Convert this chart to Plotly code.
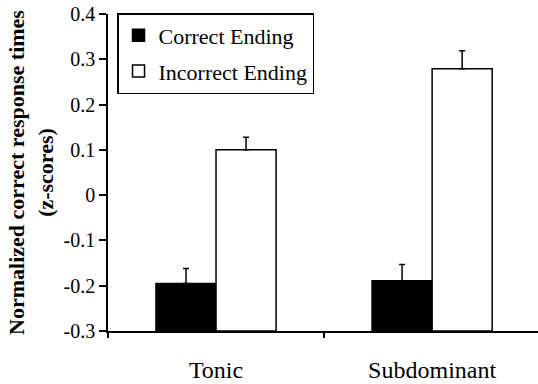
import plotly.graph_objects as go

categories = ["Tonic", "Subdominant"]
correct_vals = [-0.195, -0.189]
correct_err = [0.033, 0.036]
incorrect_vals = [0.10, 0.279]
incorrect_err = [0.028, 0.040]
ytick_vals = [0.4, 0.3, 0.2, 0.1, 0.0, -0.1, -0.2, -0.3]
ytick_text = ["0.4", "0.3", "0.2", "0.1", "0", "-0.1", "-0.2", "-0.3"]
base_val = -0.3

FONT = "Liberation Serif"

fig = go.Figure()
fig.add_trace(go.Bar(
    name="Correct Ending", x=categories,
    y=[v - base_val for v in correct_vals], base=base_val,
    marker=dict(color="black", line=dict(color="black", width=1.5)),
    error_y=dict(type="data", symmetric=False, array=correct_err,
                 arrayminus=[0, 0], color="black", thickness=1.5, width=3),
    legendgroup="a",
))
fig.add_trace(go.Bar(
    name="Incorrect Ending", x=categories,
    y=[v - base_val for v in incorrect_vals], base=base_val,
    marker=dict(color="white", line=dict(color="black", width=1.5)),
    error_y=dict(type="data", symmetric=False, array=incorrect_err,
                 arrayminus=[0, 0], color="black", thickness=1.5, width=3),
    legendgroup="b",
))

fig.update_layout(
    width=538, height=384,
    margin=dict(l=108, r=0, t=14, b=53, autoexpand=False),
    paper_bgcolor="white", plot_bgcolor="white",
    barmode="group", bargap=0.444, bargroupgap=0,
    font=dict(family=FONT, color="black"),
    showlegend=True,
    legend=dict(
        x=0.021, y=1.003, xanchor="left", yanchor="top",
        bordercolor="black", borderwidth=1.5, bgcolor="white",
        font=dict(size=22, family=FONT),
        traceorder="grouped", tracegroupgap=4,
        itemwidth=30,
    ),
)
fig.update_xaxes(
    range=[-0.5, 1.49], automargin=False,
    showline=True, linecolor="black", linewidth=1.5,
    ticks="outside", tickson="boundaries", ticklen=5, tickcolor="black", tickwidth=1.5,
    tickfont=dict(size=24, family=FONT),
    ticklabelstandoff=16,
    showgrid=False, zeroline=False,
)
fig.update_yaxes(
    range=[-0.3, 0.4], automargin=False,
    tickvals=ytick_vals, ticktext=ytick_text,
    showline=True, linecolor="black", linewidth=1.5,
    ticks="outside", ticklen=7, tickcolor="black", tickwidth=1.5,
    tickfont=dict(size=20, family=FONT),
    ticklabeloverflow="allow",
    title=dict(text="<b>Normalized correct response times<br>(z-scores)</b>",
               font=dict(size=22, family=FONT), standoff=4),
    showgrid=False, zeroline=False,
)

fig.write_html("out.html",
               config={"displayModeBar": False},
               post_script="document.body.style.margin='0';document.body.style.overflow='hidden';")
